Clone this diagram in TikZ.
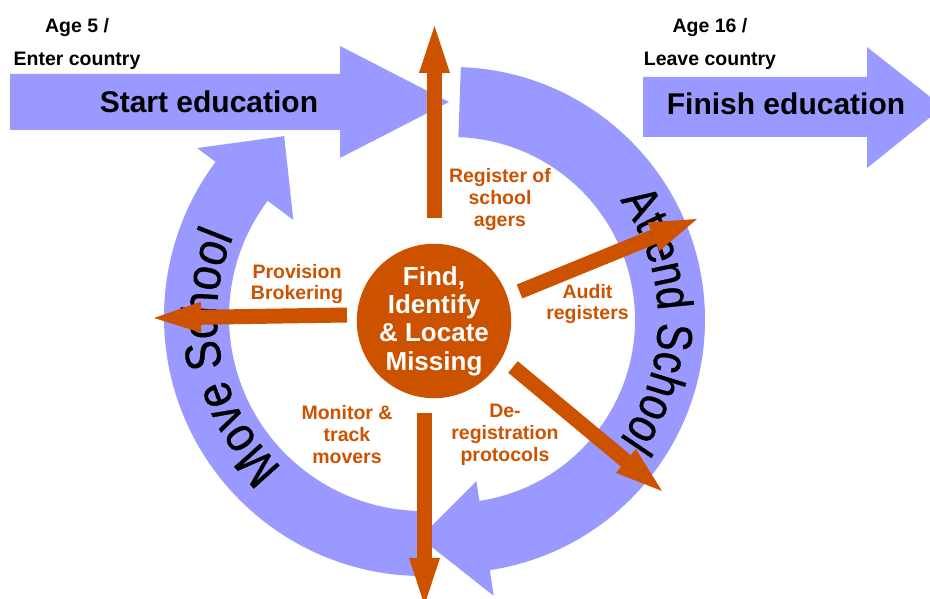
\documentclass[tikz,border=0pt]{standalone}
\usepackage{fontspec}
\setmainfont{Liberation Sans}
\newfontfamily\attfont[FakeStretch=0.82,FakeBold=0.8]{Liberation Sans}
\newfontfamily\movfont[FakeStretch=0.87,FakeBold=0.8]{Liberation Sans}
\newcommand\attfmt{\attfont\fontsize{50}{50}\selectfont}
\newcommand\movfmt{\movfont\fontsize{50}{50}\selectfont}
\usetikzlibrary{arrows.meta,decorations.text}
\definecolor{ringblue}{RGB}{153,153,255}
\definecolor{rust}{RGB}{204,82,0}
\tikzset{
  bigarrow/.style={fill=ringblue},
  ring/.style={fill=ringblue},
  oarrow/.style={draw=rust, line width=15pt, -{Triangle[width=31pt,length=47pt,line width=0pt]}},
  lbl/.style={text=rust, font=\fontsize{19.5}{21.7}\selectfont\bfseries, align=center, inner sep=0pt},
  agelbl/.style={font=\fontsize{19.5}{22}\selectfont\bfseries, anchor=base, inner sep=0pt},
  big/.style={font=\fontsize{30}{34}\selectfont\bfseries, anchor=base, inner sep=0pt},
  hubstyle/.style={circle, fill=rust, text=white, minimum size=152pt, inner sep=0pt, align=center,
    font=\fontsize{26}{28.3}\selectfont\bfseries}
}
\begin{document}
\begin{tikzpicture}[x=1pt,y=1pt]
\useasboundingbox (0,0) rectangle (930,599);
\clip (0,0) rectangle (930,599);
% big blue arrows
\fill[bigarrow] (10,525)--(340,525)--(340,553)--(449,497)--(340,441)--(340,469)--(10,469)--cycle;
\fill[bigarrow] (643,522)--(867,522)--(867,552)--(943,492)--(867,431)--(867,462)--(643,462)--cycle;
% Attend School ring
\begin{scope}[shift={(452,279)}]
  \fill[ring] (88:253) arc[start angle=88,end angle=-81.4,radius=253]
    -- (-81.4:279) -- (-98.4:220) -- (-81.4:163) -- (-81.4:183)
    arc[start angle=-81.4,end angle=88,radius=183] -- cycle;
  \path[decorate, decoration={text along path, text={|\attfmt|Attend School}, text align=center}]
    (62:206) arc[start angle=62,end angle=-62,radius=206];
\end{scope}
% Move School ring
\begin{scope}[shift={(423,282)}]
  \fill[ring] (-88:259) arc[start angle=-88,end angle=-216.8,radius=259]
    -- (-216.8:282) -- (-232.5:228) -- (-216.8:162) -- (-216.8:194)
    arc[start angle=-216.8,end angle=-88,radius=194] -- cycle;
  \path[decorate, decoration={text along path, text={|\movfmt|Move School}, text align=center}]
    (252:206) arc[start angle=252,end angle=132,radius=206];
\end{scope}
% hub
\node[hubstyle] (hub) at (434,278) {Find,\\Identify\\\& Locate\\Missing};
% orange arrow ends
\coordinate (upS) at (434.5,381);  \coordinate (upE) at (434.5,573);
\coordinate (dnS) at (424.5,186);  \coordinate (dnE) at (424.5,-6);
\coordinate (lfS) at (347,284);    \coordinate (lfE) at (154,281);
\coordinate (urS) at (519.5,307.5);\coordinate (urE) at (697,380);
\coordinate (lrS) at (513,232);    \coordinate (lrE) at (662,108);
\draw[oarrow] (upS) -- (upE);
\draw[oarrow] (dnS) -- (dnE);
\draw[oarrow] (lfS) -- (lfE);
\draw[oarrow] (urS) -- (urE);
\draw[oarrow] (lrS) -- (lrE);
% labels
\node[lbl] (reg) at (500,399.3) {Register of\\school\\agers};
\node[lbl] (aud) at (587.5,295.1) {Audit\\registers};
\node[lbl] (dereg) at (505,164.3) {De-\\registration\\protocols};
\node[lbl] (mon) at (347,164.3) {Monitor \&\\track\\movers};
\node[lbl] (prov) at (297,315) {Provision\\Brokering};
\node[agelbl] (age5) at (77,566) {Age 5 /};
\node[agelbl] (enter) at (77,533) {Enter country};
\node[agelbl] (age16) at (710,566) {Age 16 /};
\node[agelbl] (leave) at (710,533) {Leave country};
\node[big] (start) at (209,486) {Start education};
\node[big] (finish) at (786,484) {Finish education};
\end{tikzpicture}
\end{document}
